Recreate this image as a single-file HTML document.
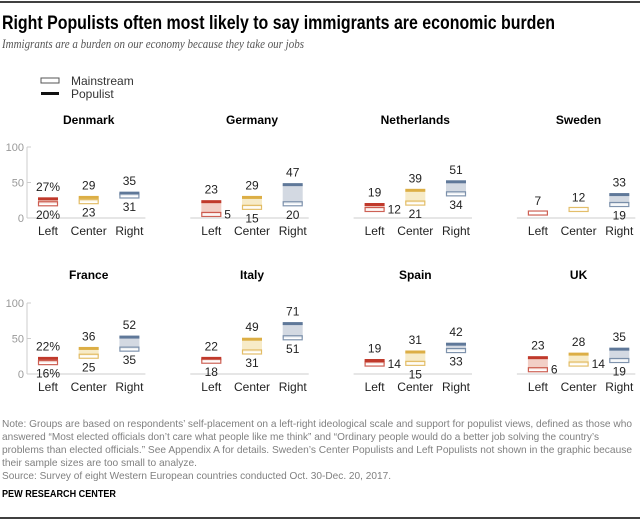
<!DOCTYPE html>
<html><head><meta charset="utf-8">
<style>
body{margin:0;background:#fff;width:640px;height:520px;overflow:hidden;font-family:"Liberation Sans Narrow","Liberation Sans",sans-serif;}
svg{position:absolute;left:0;top:0}
</style></head>
<body>
<svg id="chart" width="640" height="520" viewBox="0 0 640 520">
<line x1="0" y1="2" x2="640" y2="2" stroke="#000" stroke-width="1.5"/>
<text x="2" y="29" font-size="19" font-weight="bold" font-family="Liberation Sans Narrow, Liberation Sans, sans-serif" fill="#000" textLength="553" lengthAdjust="spacingAndGlyphs">Right Populists often most likely to say immigrants are economic burden</text>
<text x="2" y="48" font-size="13" font-style="italic" font-family="Liberation Serif, serif" fill="#555" textLength="302" lengthAdjust="spacingAndGlyphs">Immigrants are a burden on our economy because they take our jobs</text>
<g>
<rect x="41" y="78" width="18" height="5" fill="#fff" stroke="#555" stroke-width="1"/>
<text x="71" y="85" font-size="12" fill="#333">Mainstream</text>
<rect x="41" y="92" width="18" height="3" fill="#111"/>
<text x="71" y="98" font-size="12" fill="#333">Populist</text>
</g>
<g id="panels"></g>
<g font-size="10.5" fill="#808080">
<text x="2" y="427" textLength="630" lengthAdjust="spacingAndGlyphs">Note: Groups are based on respondents’ self-placement on a left-right ideological scale and support for populist views, defined as those who</text>
<text x="2" y="440" textLength="597" lengthAdjust="spacingAndGlyphs">answered “Most elected officials don’t care what people like me think” and “Ordinary people would do a better job solving the country’s</text>
<text x="2" y="453" textLength="630" lengthAdjust="spacingAndGlyphs">problems than elected officials.” See Appendix A for details. Sweden’s Center Populists and Left Populists not shown in the graphic because</text>
<text x="2" y="466" textLength="195" lengthAdjust="spacingAndGlyphs">their sample sizes are too small to analyze.</text>
<text x="2" y="479" textLength="389" lengthAdjust="spacingAndGlyphs">Source: Survey of eight Western European countries conducted Oct. 30-Dec. 20, 2017.</text>
</g>
<text x="2" y="497" font-size="10.5" font-weight="bold" fill="#000" textLength="114" lengthAdjust="spacingAndGlyphs">PEW RESEARCH CENTER</text>
<line x1="0" y1="518" x2="640" y2="518" stroke="#000" stroke-width="1.5"/>
</svg>
<script>
const countries = ["Denmark","Germany","Netherlands","Sweden","France","Italy","Spain","UK"];
const groups = ["Left","Center","Right"];
const mainstream = [[20,23,31],[5,15,20],[12,21,34],[7,12,19],[16,25,35],[18,31,51],[14,15,33],[6,14,19]];
const populist = [[27,29,35],[23,29,47],[19,39,51],[null,null,33],[22,36,52],[22,49,71],[19,31,42],[23,28,35]];
const yTicks = [0,50,100];

const NS="http://www.w3.org/2000/svg";
const root=document.getElementById('panels');
const dark=["#c0392b","#dcae45","#5f7899"];
const light=["#f2cfc6","#f7ebc8","#d3d9e2"];
function mk(tag,attrs,parent){const e=document.createElementNS(NS,tag);for(const k in attrs)e.setAttribute(k,attrs[k]);parent.appendChild(e);return e;}
function yScale(v,row){const base=row===0?218:374;return base-v*0.71;}
function xScale(ci,gi){return 48+(ci%4)*163.3+gi*40.7;}

countries.forEach((c,ci)=>{
  const row=ci<4?0:1;
  const g=mk('g',{},root);
  
  
  const t=mk('text',{x:xScale(ci,1),y:row===0?124:279,'text-anchor':'middle','font-size':12,'font-weight':'bold',fill:'#000','font-family':'Liberation Sans, sans-serif'},g);
  t.textContent=c;
  
  
  const x0=xScale(ci,0)-21, x1=xScale(ci,2)+16;
  if(ci%4===0){
    mk('line',{x1:27,y1:yScale(0,row),x2:27,y2:yScale(100,row),stroke:'#ccc','stroke-width':1},g);
    yTicks.forEach(v=>{
      mk('line',{x1:27,y1:yScale(v,row),x2:31,y2:yScale(v,row),stroke:'#ccc'},g);
      const tt=mk('text',{x:24,y:yScale(v,row)+4,'text-anchor':'end','font-size':11,fill:'#999'},g);
      tt.textContent=v;
      
      
    });
  }
  const bl=mk('line',{x1:ci%4===0?27:x0,y1:yScale(0,row),x2:x1,y2:yScale(0,row),stroke:'#ccc','stroke-width':1},g);
  
  
  groups.forEach((gr,gi)=>{
    const cx=xScale(ci,gi), m=mainstream[ci][gi], p=populist[ci][gi];
    const lab=mk('text',{x:cx,y:yScale(0,row)+17,'text-anchor':'middle','font-size':12,fill:'#222'},g);
    lab.textContent=gr;
    
    
    const ym=yScale(m,row);
    if(p!==null){
      const yp=yScale(p,row);
      const band=mk('rect',{x:cx-10,y:Math.min(ym,yp),width:20,height:Math.abs(ym-yp),fill:light[gi]},g);
      
      
      const pl=mk('rect',{x:cx-10,y:yp-1.5,width:20,height:3,fill:dark[gi]},g);
      
      
    }
    const mr=mk('rect',{x:cx-9.5,y:ym-2,width:19,height:4,fill:'#fff','fill-opacity':0.6,stroke:dark[gi],'stroke-width':1.2,'stroke-opacity':0.8},g);
    
    
    const pct=(ci%4===0&&gi===0)?'%':'';
    const hi=p===null?m:Math.max(m,p);
    const ht=mk('text',{x:cx,y:yScale(hi,row)-8,'text-anchor':'middle','font-size':12,fill:'#222'},g);
    ht.textContent=hi+pct;
    
    
    if(p!==null){
      const lo=Math.min(m,p);
      let lt;
      if(lo<15){lt=mk('text',{x:cx+13,y:yScale(lo,row)+4,'text-anchor':'start','font-size':12,fill:'#222'},g);}
      else{lt=mk('text',{x:cx,y:yScale(lo,row)+15,'text-anchor':'middle','font-size':12,fill:'#222'},g);}
      lt.textContent=lo+pct;
      
      
    }
  });
});
</script>
</body></html>
